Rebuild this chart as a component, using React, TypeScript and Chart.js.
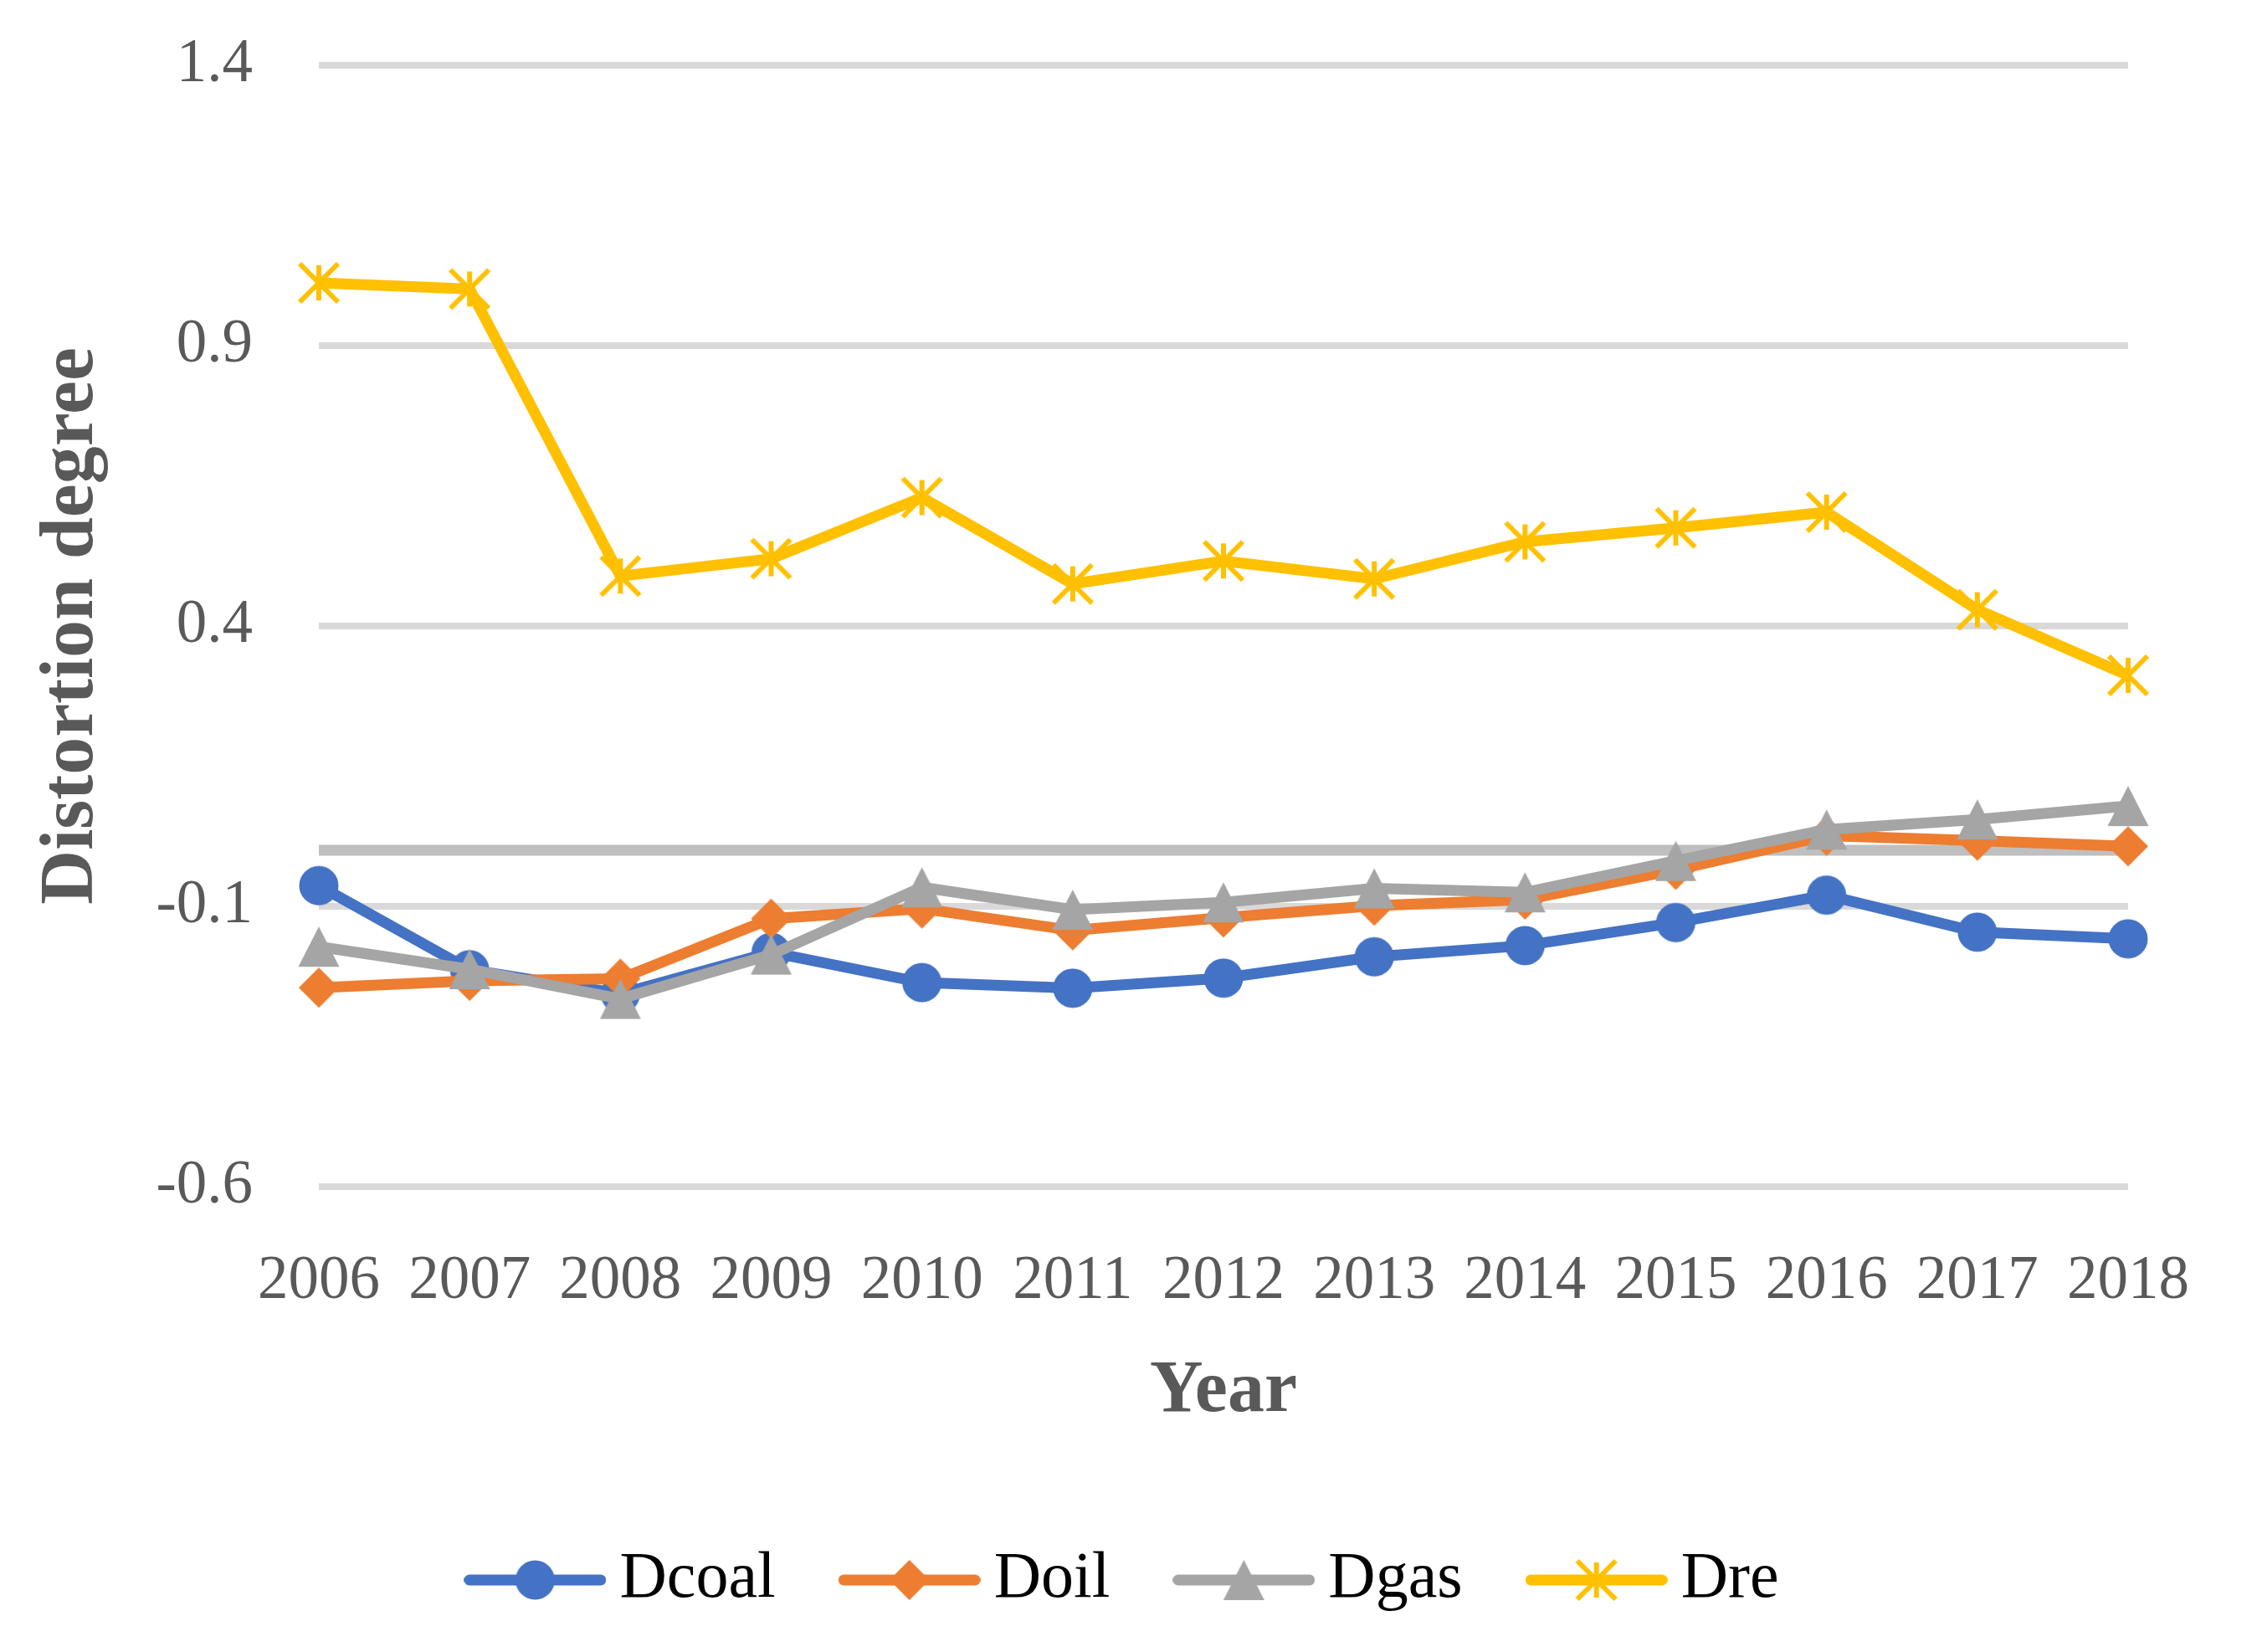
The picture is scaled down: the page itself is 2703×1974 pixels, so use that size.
import React, { useEffect, useRef } from 'react';
import { Chart, registerables } from 'chart.js';

Chart.register(...registerables);

const years = ['2006', '2007', '2008', '2009', '2010', '2011', '2012', '2013', '2014', '2015', '2016', '2017', '2018'];
const dcoal = [-0.063, -0.213, -0.256, -0.182, -0.236, -0.246, -0.228, -0.19, -0.17, -0.129, -0.08, -0.146, -0.158];
const doil = [-0.245, -0.233, -0.229, -0.122, -0.104, -0.143, -0.12, -0.099, -0.088, -0.035, 0.026, 0.017, 0.007];
const dgas = [-0.172, -0.212, -0.265, -0.186, -0.066, -0.106, -0.093, -0.068, -0.075, -0.019, 0.037, 0.055, 0.079];
const dre = [1.012, 1.001, 0.489, 0.52, 0.629, 0.475, 0.516, 0.484, 0.55, 0.575, 0.603, 0.429, 0.312];

const yMin = -0.6;
const yMax = 1.4;
const yStep = 0.5;

const FONT = "'Liberation Serif', 'Times New Roman', serif";
const TEXT_GREY = '#595959';

type Kind = 'circle' | 'diamond' | 'triangle' | 'star';

// marker drawn like the Excel ones
function makeMarker(kind: Kind, color: string) {
   const c = document.createElement('canvas');
   c.width = 56;
   c.height = 56;
   const ctx = c.getContext('2d')!;
   ctx.fillStyle = color;
   ctx.strokeStyle = color;
   if (kind === 'circle') {
      ctx.beginPath();
      ctx.arc(28, 28, 23.5, 0, Math.PI * 2);
      ctx.fill();
   } else if (kind === 'diamond') {
      ctx.beginPath();
      ctx.moveTo(28, 4);
      ctx.lineTo(52, 28);
      ctx.lineTo(28, 52);
      ctx.lineTo(4, 28);
      ctx.closePath();
      ctx.fill();
   } else if (kind === 'triangle') {
      ctx.beginPath();
      ctx.moveTo(28, 4);
      ctx.lineTo(52.5, 52);
      ctx.lineTo(3.5, 52);
      ctx.closePath();
      ctx.fill();
   } else {
      ctx.lineWidth = 6;
      ctx.beginPath();
      ctx.moveTo(28, 7);
      ctx.lineTo(28, 49);
      ctx.moveTo(5, 5);
      ctx.lineTo(51, 51);
      ctx.moveTo(51, 5);
      ctx.lineTo(5, 51);
      ctx.stroke();
   }
   return c;
}

function makeLegendIcon(marker: HTMLCanvasElement, color: string) {
   const c = document.createElement('canvas');
   c.width = 170;
   c.height = 56;
   const ctx = c.getContext('2d')!;
   ctx.strokeStyle = color;
   ctx.lineWidth = 13;
   ctx.lineCap = 'round';
   ctx.beginPath();
   ctx.moveTo(6.5, 28);
   ctx.lineTo(163.5, 28);
   ctx.stroke();
   ctx.drawImage(marker, 85 - 28, 0);
   return c;
}

const zeroLine = {
   id: 'zeroLine',
   beforeDatasetsDraw(chart: any) {
      const { ctx, chartArea, scales } = chart;
      const y = scales.y.getPixelForValue(0);
      ctx.save();
      ctx.strokeStyle = '#bfbfbf';
      ctx.lineWidth = 13;
      ctx.beginPath();
      ctx.moveTo(chartArea.left, y);
      ctx.lineTo(chartArea.right, y);
      ctx.stroke();
      ctx.restore();
   },
};

const App = () => {
   const canvasRef = useRef<HTMLCanvasElement | null>(null);

   useEffect(() => {
      if (!canvasRef.current) return;

      const series = [
         { label: 'Dcoal', data: dcoal, color: '#4472C4', kind: 'circle' as Kind, order: 3 },
         { label: 'Doil', data: doil, color: '#ED7D31', kind: 'diamond' as Kind, order: 2 },
         { label: 'Dgas', data: dgas, color: '#A5A5A5', kind: 'triangle' as Kind, order: 1 },
         { label: 'Dre', data: dre, color: '#FFC000', kind: 'star' as Kind, order: 0 },
      ];
      const markers = series.map((s) => makeMarker(s.kind, s.color));
      const icons = series.map((s, i) => makeLegendIcon(markers[i], s.color));

      const datasets = series.map((s, i) => ({
         label: s.label,
         data: s.data,
         order: s.order,
         borderColor: s.color,
         backgroundColor: s.color,
         borderWidth: 13,
         pointStyle: markers[i],
         pointRadius: 24,
         pointHoverRadius: 24,
         tension: 0,
         clip: false as any,
      }));

      const chart = new Chart(canvasRef.current, {
         type: 'line',
         data: { labels: years, datasets },
         plugins: [zeroLine],
         options: {
            animation: false,
            responsive: true,
            maintainAspectRatio: false,
            events: [],
            layout: { padding: { top: 78, bottom: 37, left: 0, right: 0 } },
            plugins: {
               tooltip: { enabled: false },
               legend: {
                  position: 'bottom',
                  labels: {
                     usePointStyle: true,
                     pointStyleWidth: 124,
                     padding: 98,
                     font: { family: FONT, size: 78 },
                     generateLabels: (c: any) =>
                        c.data.datasets.map((ds: any, i: number) => ({
                           text: ds.label,
                           pointStyle: icons[i],
                           fillStyle: ds.borderColor,
                           strokeStyle: ds.borderColor,
                           lineWidth: 0,
                           fontColor: '#000000',
                           hidden: false,
                           datasetIndex: i,
                        })),
                  },
               },
            },
            scales: {
               x: {
                  grid: { display: false },
                  border: { display: false },
                  ticks: {
                     autoSkip: false,
                     maxRotation: 0,
                     padding: 62,
                     color: TEXT_GREY,
                     font: { family: FONT, size: 73 },
                  },
                  title: {
                     display: true,
                     text: 'Year',
                     color: TEXT_GREY,
                     font: { family: FONT, size: 88, weight: 'bold' },
                     padding: { top: 0, bottom: 35 },
                  },
                  afterFit: (s: any) => {
                     s.height = 333;
                  },
               },
               y: {
                  min: yMin,
                  max: yMax,
                  // invisible tick marks give the gap to the labels (ticks.padding would also pad the top)
                  grid: { color: '#d9d9d9', lineWidth: 8, drawTicks: true, tickLength: 79, tickColor: 'rgba(0,0,0,0)' },
                  border: { display: false },
                  ticks: {
                     stepSize: yStep,
                     padding: 0,
                     color: TEXT_GREY,
                     font: { family: FONT, size: 73 },
                     callback: (v: any) => Number(v).toFixed(1),
                  },
                  title: {
                     display: true,
                     text: 'Distortion degree',
                     color: TEXT_GREY,
                     font: { family: FONT, size: 90, weight: 'bold' },
                     padding: { top: 33, bottom: 0 },
                  },
                  afterFit: (s: any) => {
                     s.width = 381;
                  },
               },
               yr: {
                  type: 'linear',
                  position: 'right',
                  grid: { display: false },
                  border: { display: false },
                  ticks: { display: false },
                  afterFit: (s: any) => {
                     s.width = 160;
                  },
               },
            },
         } as any,
      });

      return () => {
         chart.destroy();
      };
   }, []);

   return (
      <div style={{ position: 'absolute', left: 0, top: 0, width: 2703, height: 1974, background: '#fff' }}>
         <canvas ref={canvasRef} />
      </div>
   );
};

export default App;
